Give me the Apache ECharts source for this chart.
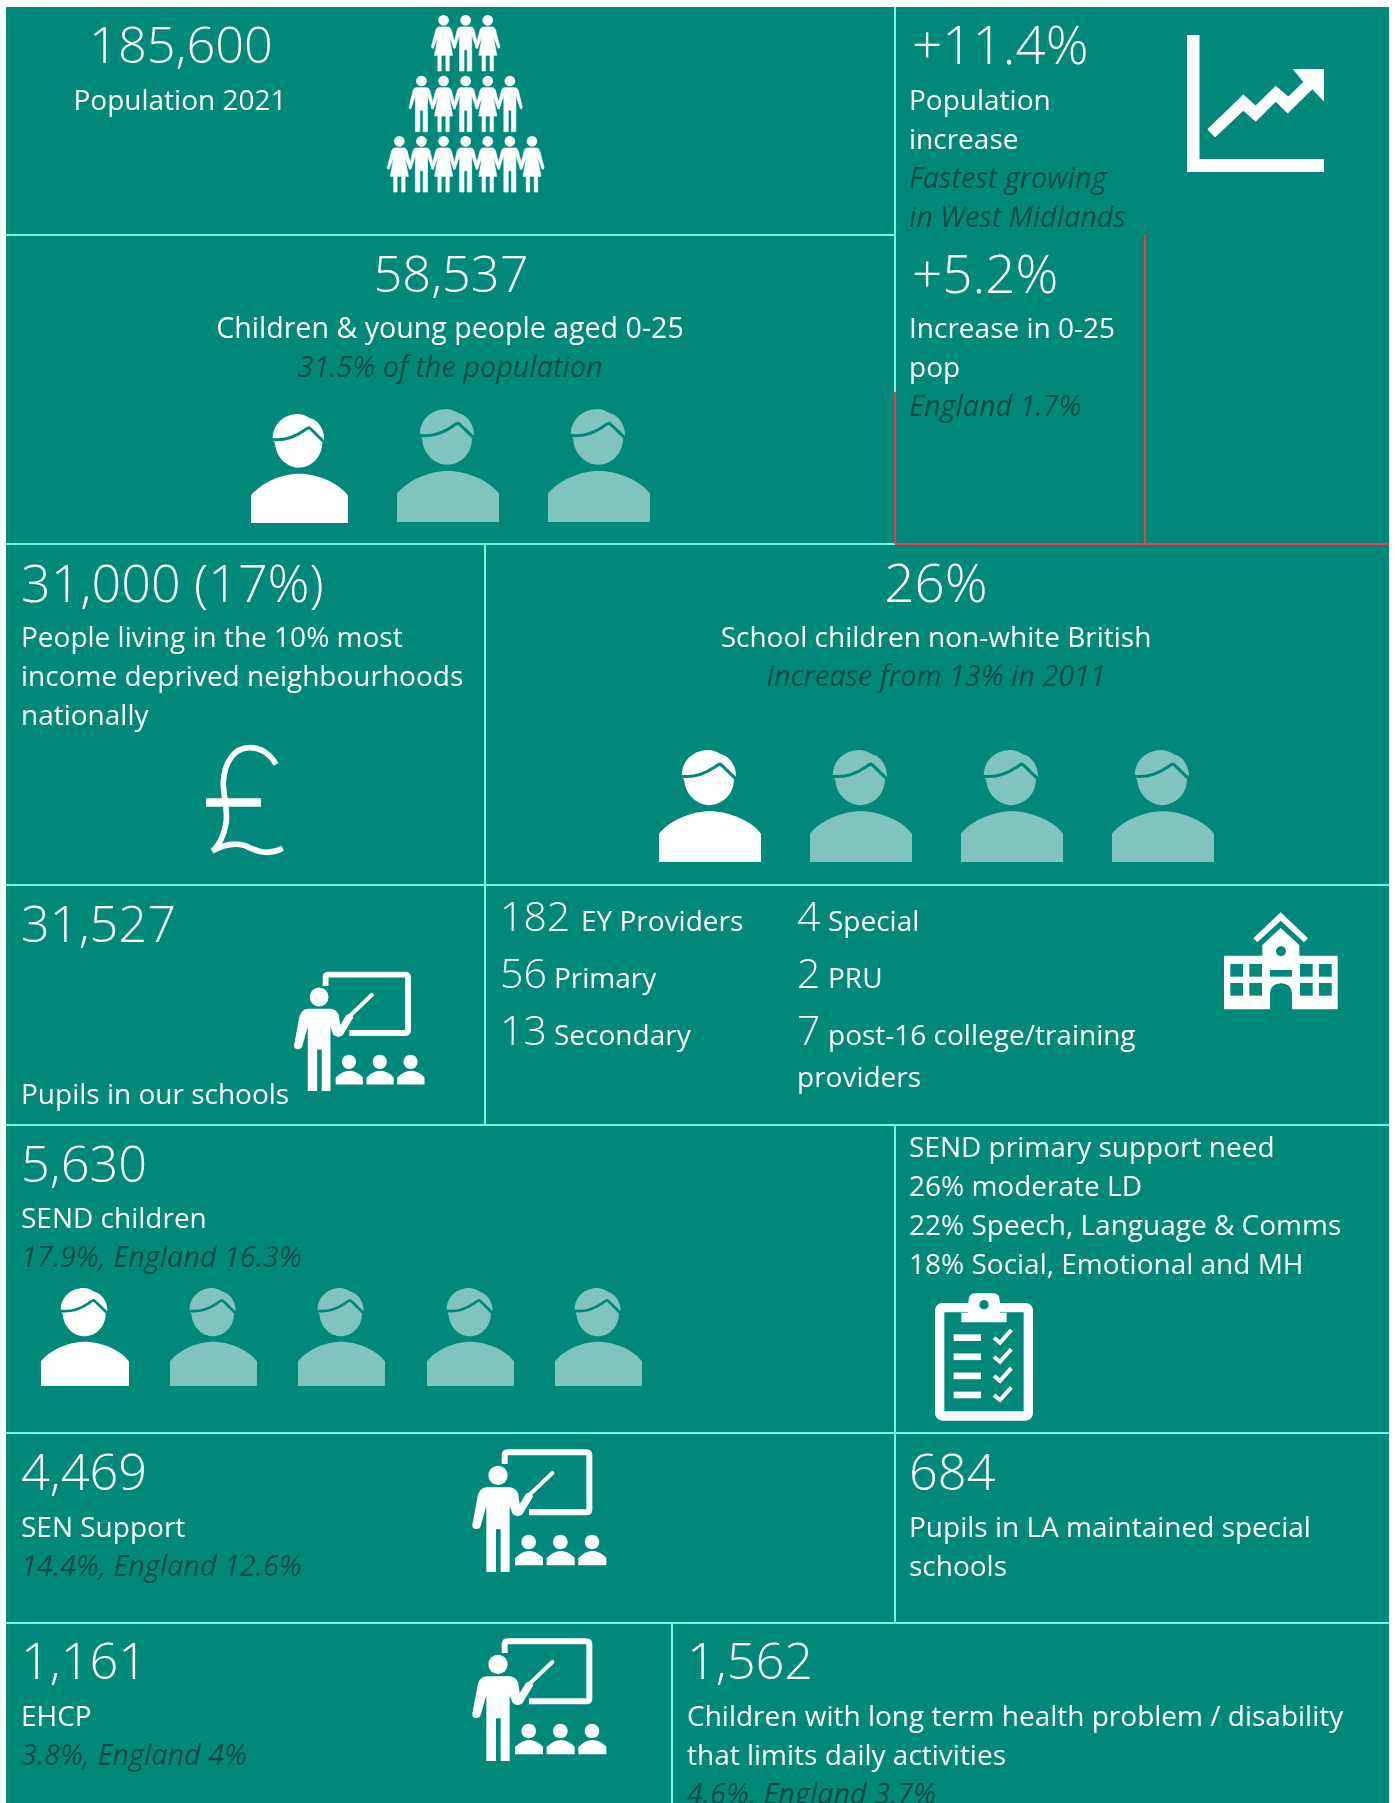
<!DOCTYPE html>
<html>
<head>
<meta charset="utf-8">
<title>Population and schools overview</title>
<script src="https://cdn.jsdelivr.net/npm/echarts@6/dist/echarts.min.js"></script>
<style>
  html, body { margin: 0; padding: 0; background: #fff; }
  #main { width: 1395px; height: 1803px; }
</style>
</head>
<body>
<div id="main"></div>
<script>
// text of each panel, top to bottom
var populationTotal = ["185,600", "Population 2021"];
var populationRise = ["+11.4%", "Population", "increase", "Fastest growing", "in West Midlands"];
var youngPeople = ["58,537", "Children & young people aged 0-25", "31.5% of the population"];
var youngRise = ["+5.2%", "Increase in 0-25", "pop", "England 1.7%"];
var deprivation = ["31,000 (17%)", "People living in the 10% most", "income deprived neighbourhoods", "nationally"];
var nonWhite = ["26%", "School children non-white British", "Increase from 13% in 2011"];
var pupils = ["31,527", "Pupils in our schools"];
var providerCounts = ["182", "56", "13", "4", "2", "7"];
var providerNames = ["EY Providers", "Primary", "Secondary", "Special", "PRU", "post-16 college/training", "providers"];
var sendChildren = ["5,630", "SEND children", "17.9%, England 16.3%"];
var sendNeeds = ["SEND primary support need", "26% moderate LD", "22% Speech, Language & Comms", "18% Social, Emotional and MH"];
var senSupport = ["4,469", "SEN Support", "14.4%, England 12.6%"];
var specialSchools = ["684", "Pupils in LA maintained special", "schools"];
var ehcp = ["1,161", "EHCP", "3.8%, England 4%"];
var longTerm = ["1,562", "Children with long term health problem / disability", "that limits daily activities", "4.6%, England 3.7%"];

// how many figures in each row of the population pyramid
var pyramidRows = [3, 5, 7];
var checklistRows = [0, 1, 2, 3];

var TEAL = "#00897B";
var AQUA = "#6CFDE4";
var RED = "#F53C3C";
var FADED = "#80C4BD";
var DARK = "#0B4B46";
var FONT = '"Open Sans", "Noto Sans", sans-serif';

var g = [];

function big(s, x, y, align, size) {
  g.push({ type: "text", style: { text: s, x: x, y: y + 3, fill: "#fff", fontFamily: FONT, fontWeight: 300, fontSize: size || 50.5, align: align || "left", verticalAlign: "middle" } });
}
function mid(s, x, y) {
  g.push({ type: "text", style: { text: s, x: x, y: y + 2, fill: "#fff", fontFamily: FONT, fontWeight: 300, fontSize: 41, align: "left", verticalAlign: "middle" } });
}
function body(s, x, y, align, size) {
  g.push({ type: "text", style: { text: s, x: x, y: y + 2, fill: "#fff", fontFamily: FONT, fontWeight: 400, fontSize: size || 28, align: align || "left", verticalAlign: "middle" } });
}
function note(s, x, y, align) {
  g.push({ type: "text", style: { text: s, x: x, y: y + 2, fill: DARK, fontFamily: FONT, fontStyle: "italic", fontWeight: 400, fontSize: 28.8, align: align || "left", verticalAlign: "middle" } });
}
function rule(x1, y1, x2, y2, color) {
  g.push({ type: "line", shape: { x1: x1, y1: y1, x2: x2, y2: y2 }, style: { stroke: color, lineWidth: 2 } });
}

// bust icon, coordinates are those of the 3x crop of the reference
function person(x, y, w, h, color) {
  g.push({
    type: "group", x: x, y: y, scaleX: w / 293, scaleY: h / 325,
    children: [
      {
        type: "group", x: -32, y: -27,
        children: [
          { type: "path", shape: { pathData: "M98 105 C95 60 130 27 175 27 C190 27 205 37 212 40 C235 45 255 75 253 105 C250 110 247 112 247 118 C245 155 215 187 176 187 C140 187 108 155 105 118 C105 112 100 108 98 105 Z M32 352 L32 270 C60 235 120 205 178 205 C235 205 300 235 325 270 L325 352 Z" }, style: { fill: color } },
          { type: "path", shape: { pathData: "M96 103 C135 108 165 95 190 78 C198 72 203 68 208 68 C215 72 235 95 255 112" }, style: { fill: "none", stroke: TEAL, lineWidth: 9 } }
        ]
      }
    ]
  });
}

// teacher at a board, coordinates are those of the 3x crop of the reference
function teacher(x, y, k) {
  var kids = [0, 95, 190].map(function (d) {
    return { type: "path", x: d, shape: { pathData: "M150 418 L150 396 C165 382 178 375 192 375 C206 375 222 382 234 396 L234 418 Z" }, style: { fill: "#fff" } };
  });
  var kidHeads = [0, 95, 190].map(function (d) {
    return { type: "circle", shape: { cx: 191 + d, cy: 348, r: 22 }, style: { fill: "#fff" } };
  });
  g.push({
    type: "group", x: x, y: y, scaleX: k / 3, scaleY: k / 3,
    children: [
      { type: "path", shape: { pathData: "M119 114 L119 88 Q119 79 128 79 L364 79 Q373 79 373 88 L373 250 Q373 259 364 259 L192 259" }, style: { fill: "none", stroke: "#fff", lineWidth: 18 } },
      { type: "circle", shape: { cx: 99, cy: 148, r: 29 }, style: { fill: "#fff" } },
      { type: "path", shape: { pathData: "M66 184 L130 184 C146 184 156 192 160 205 L164 235 L182 205 C188 196 204 200 204 212 L174 262 C168 272 150 274 142 262 L134 240 L134 438 L107 438 L107 310 L93 310 L93 438 L64 438 L64 240 L47 300 C44 314 20 312 22 296 L38 210 C42 194 52 184 66 184 Z" }, style: { fill: "#fff" } },
      { type: "line", shape: { x1: 195, y1: 205, x2: 262, y2: 141 }, style: { stroke: "#fff", lineWidth: 12, lineCap: "round" } }
    ].concat(kids, kidHeads)
  });
}

// one figure of the pyramid, head centre at (cx, cy), coordinates in the 3x crop
var manPath = "M-16 20 L16 20 Q22 20 25 28 L37 78 Q38 84 32 84 L18 42 L18 152 L5 152 L5 88 L-5 88 L-5 152 L-18 152 L-18 42 L-32 84 Q-38 84 -37 78 L-25 28 Q-22 20 -16 20 Z";
var womanPath = "M-14 20 L14 20 Q20 20 23 28 L36 78 Q37 84 31 84 L16 45 L27 105 L17 105 L17 152 L7 152 L7 105 L-7 105 L-7 152 L-17 152 L-17 105 L-27 105 L-16 45 L-31 84 Q-37 84 -36 78 L-23 28 Q-20 20 -14 20 Z";
function pyramid() {
  var kids = [];
  var rowY = [61, 243, 424];
  pyramidRows.forEach(function (n, r) {
    for (var i = 0; i < n; i++) {
      var cx = 317 + (i - (n - 1) / 2) * 66.3;
      var woman = ((i + (r == 1 ? 1 : 0)) % 2) == 0;
      kids.push({ type: "circle", shape: { cx: cx, cy: rowY[r], r: 16 }, style: { fill: "#fff" } });
      kids.push({ type: "path", x: cx, y: rowY[r], shape: { pathData: woman ? womanPath : manPath }, style: { fill: "#fff", stroke: "#fff", lineWidth: 2 } });
    }
  });
  g.push({ type: "group", x: 360, y: 0, scaleX: 1 / 3, scaleY: 1 / 3, children: kids });
}

function trendIcon() {
  g.push({
    type: "group", x: 1187, y: 35,
    children: [
      { type: "path", shape: { pathData: "M0 0 L12.5 0 L12.5 124 L137 124 L137 137 L0 137 Z" }, style: { fill: "#fff" } },
      { type: "path", shape: { pathData: "M20.3 94.3 L56.3 59.6 L68.7 70.4 L88.7 50.7 L101.3 61.4 L116.3 47.1 L105.7 33.9 L137 33.9 L137 66.4 L125.3 54.3 L100.7 78.6 L88.7 66.8 L68.7 86.8 L56.3 75.7 L28 102.5 Z" }, style: { fill: "#fff" } }
    ]
  });
}

function poundIcon() {
  g.push({
    type: "group", x: 195, y: 735, scaleX: 1 / 3, scaleY: 1 / 3,
    children: [
      { type: "path", shape: { pathData: "M243 88 C225 55 195 38 165 38 C115 38 88 85 85 140 C84 185 100 225 93 265 C88 300 70 335 52 348 C85 330 120 322 150 332 C180 345 215 365 263 340" }, style: { fill: "none", stroke: "#fff", lineWidth: 17 } },
      { type: "rect", shape: { x: 33, y: 190, width: 165, height: 25 }, style: { fill: "#fff" } }
    ]
  });
}

function schoolIcon() {
  var kids = [
    { type: "path", shape: { pathData: "M302 67 L384 145 L372 157 L302 92 L232 157 L220 145 Z" }, style: { fill: "#fff" } },
    { type: "path", shape: { pathData: "M302 114 L358 165 L358 197 L473 197 L473 358 L336 358 L336 310 Q333 280 303 280 Q272 280 270 310 L270 358 L132 358 L132 197 L247 197 L247 165 Z" }, style: { fill: "#fff" } },
    { type: "circle", shape: { cx: 303, cy: 184, r: 15 }, style: { fill: TEAL } },
    { type: "rect", shape: { x: 270, y: 240, width: 66, height: 20 }, style: { fill: TEAL } }
  ];
  [151, 208, 360, 417].forEach(function (wx) {
    [222, 279].forEach(function (wy) {
      kids.push({ type: "rect", shape: { x: wx, y: wy, width: 38, height: 38 }, style: { fill: TEAL } });
    });
  });
  g.push({ type: "group", x: 1180, y: 890, scaleX: 1 / 3, scaleY: 1 / 3, children: kids });
}

function clipboardIcon() {
  var kids = [
    { type: "rect", shape: { x: 119, y: 113, width: 266, height: 325, r: 8 }, style: { fill: "none", stroke: "#fff", lineWidth: 28 } },
    { type: "path", shape: { pathData: "M205 98 Q205 70 225 70 L280 70 Q300 70 300 98 L300 128 L320 128 L320 157 L184 157 L184 128 L205 128 Z" }, style: { fill: "#fff" } },
    { type: "circle", shape: { cx: 252, cy: 104, r: 14 }, style: { fill: TEAL } }
  ];
  checklistRows.forEach(function (r) {
    var dy = r * 57.3;
    kids.push({ type: "rect", shape: { x: 161, y: 193 + dy, width: 82, height: 20 }, style: { fill: "#fff" } });
    kids.push({ type: "path", y: dy, shape: { pathData: "M282 203 L300 218 L334 180" }, style: { fill: "none", stroke: "#fff", lineWidth: 12 } });
  });
  g.push({ type: "group", x: 900, y: 1270, scaleX: 1 / 3, scaleY: 1 / 3, children: kids });
}

// card background and panel rules
g.push({ type: "rect", shape: { x: 6, y: 7, width: 1383, height: 1796 }, style: { fill: TEAL } });
rule(6, 235, 895, 235, AQUA);
rule(6, 544, 895, 544, AQUA);
rule(895, 7, 895, 392, AQUA);
rule(895, 392, 895, 544, RED);
rule(1145, 235, 1145, 544, RED);
rule(895, 544, 1389, 544, RED);
rule(485, 544, 485, 1125, AQUA);
rule(6, 885, 1389, 885, AQUA);
rule(6, 1125, 1389, 1125, AQUA);
rule(895, 1125, 895, 1623, AQUA);
rule(6, 1433, 1389, 1433, AQUA);
rule(6, 1623, 1389, 1623, AQUA);
rule(672, 1623, 672, 1803, AQUA);

// population row
big(populationTotal[0], 181, 46, "center");
body(populationTotal[1], 180, 100, "center");
pyramid();

big(populationRise[0], 912, 46, "left", 53);
body(populationRise[1], 909, 100);
body(populationRise[2], 909, 139);
note(populationRise[3], 909, 178);
note(populationRise[4], 909, 217);
trendIcon();

// young people
big(youngPeople[0], 451, 275, "center");
body(youngPeople[1], 450, 328, "center", 28.6);
note(youngPeople[2], 450, 367, "center");
person(251, 414, 97, 109, "#fff");
person(397, 409, 102, 113, FADED);
person(548, 409, 102, 113, FADED);

big(youngRise[0], 912, 275, "left", 53);
body(youngRise[1], 909, 328);
body(youngRise[2], 909, 367);
note(youngRise[3], 909, 406);

// deprivation + ethnicity
big(deprivation[0], 21, 584, "left", 52);
body(deprivation[1], 21, 637);
body(deprivation[2], 21, 676);
body(deprivation[3], 21, 715);
poundIcon();

big(nonWhite[0], 936, 584, "center", 53);
body(nonWhite[1], 936, 637, "center");
note(nonWhite[2], 936, 676, "center");
[659, 810, 961, 1112].forEach(function (px, i) {
  person(px, 750, 102, 112, i == 0 ? "#fff" : FADED);
});

// schools
big(pupils[0], 21, 925);
body(pupils[1], 21, 1094);
teacher(287, 949, 0.973);

mid(providerCounts[0], 500, 917);
body(providerNames[0], 581, 921);
mid(providerCounts[1], 500, 974);
body(providerNames[1], 554, 978);
mid(providerCounts[2], 500, 1031);
body(providerNames[2], 554, 1035);
mid(providerCounts[3], 797, 917);
body(providerNames[3], 828, 921);
mid(providerCounts[4], 797, 974);
body(providerNames[4], 828, 978);
mid(providerCounts[5], 797, 1031);
body(providerNames[5], 828, 1035);
body(providerNames[6], 797, 1077);
schoolIcon();

// SEND
big(sendChildren[0], 21, 1165);
body(sendChildren[1], 21, 1218);
note(sendChildren[2], 21, 1257);
[41, 170, 298, 427, 555].forEach(function (px, i) {
  person(px, 1288, i == 0 ? 88 : 87, 98, i == 0 ? "#fff" : FADED);
});

sendNeeds.forEach(function (s, i) {
  body(s, 909, 1147 + i * 39);
});
clipboardIcon();

big(senSupport[0], 21, 1473);
body(senSupport[1], 21, 1527);
note(senSupport[2], 21, 1566);
teacher(465, 1426, 1);

big(specialSchools[0], 909, 1473);
body(specialSchools[1], 909, 1527);
body(specialSchools[2], 909, 1566);

big(ehcp[0], 21, 1662);
body(ehcp[1], 21, 1716);
note(ehcp[2], 21, 1755);
teacher(465, 1615, 1);

big(longTerm[0], 687, 1662);
body(longTerm[1], 687, 1716);
body(longTerm[2], 687, 1755);
note(longTerm[3], 687, 1794);

var myChart = echarts.init(document.getElementById("main"), null, { renderer: "canvas" });
myChart.setOption({
  backgroundColor: "#fff",
  animation: false,
  series: [
    {
      type: "custom",
      coordinateSystem: "none",
      silent: true,
      data: [0],
      renderItem: function () {
        return { type: "group", children: g };
      },
    },
  ],
});
</script>
</body>
</html>
